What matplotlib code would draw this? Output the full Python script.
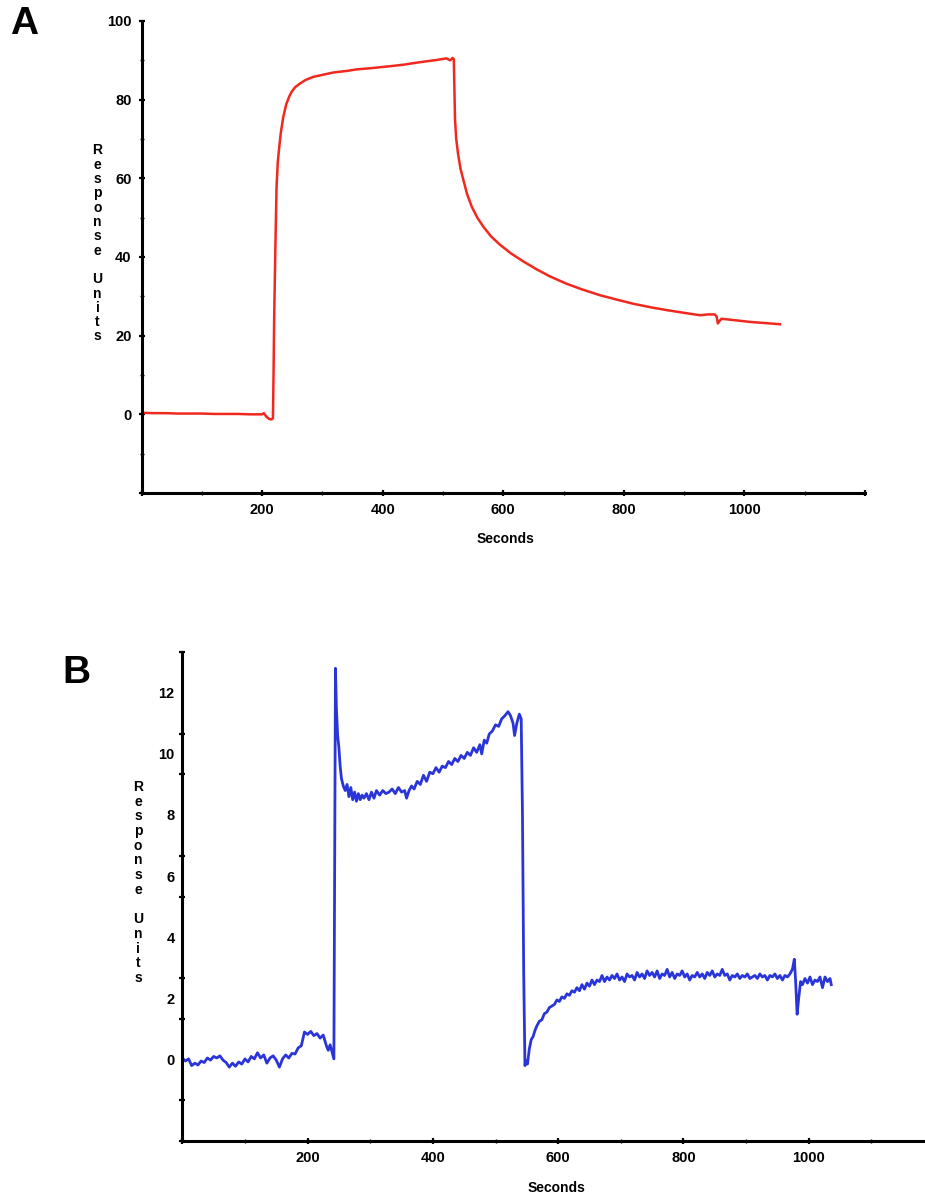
import numpy as np
import matplotlib.pyplot as plt
from matplotlib.ticker import MultipleLocator, FixedLocator

plt.rcParams['font.family'] = ['Liberation Sans', 'DejaVu Sans']
plt.rcParams['font.weight'] = 'bold'

# ---- panel A data ----
a_time = [0, 20, 40, 60, 80, 100, 120, 140, 160, 180, 200, 203, 207, 212, 216, 218,
          219, 220, 222, 224, 226, 228.5, 231, 235, 240, 245, 249, 255, 263, 272, 285,
          300, 318, 340, 357, 380, 412, 435, 456, 475, 490, 506, 512, 516, 518, 520,
          522, 525, 529, 534, 540, 548, 557, 567, 580, 594, 612, 633, 655, 677, 705,
          730, 760, 790, 816, 845, 871, 900, 926, 940, 951, 954, 956, 958, 962, 980,
          1009, 1035, 1059]
a_resp = [0.4, 0.3, 0.3, 0.2, 0.2, 0.2, 0.1, 0.1, 0.1, 0.0, 0.0, 0.3, -0.6, -1.2, -1.3, -1.0,
          10, 24, 42, 57.8, 64, 68, 71.5, 75.5, 78.8, 80.8, 82.0, 83.2, 84.1, 85.0, 85.8,
          86.3, 86.9, 87.3, 87.7, 88.0, 88.5, 88.9, 89.4, 89.8, 90.1, 90.5, 90.0, 90.6, 90.3, 75,
          70, 66.3, 62.5, 59.5, 56, 52.7, 50, 47.7, 45.2, 43.2, 41.0, 38.9, 36.9, 35.1, 33.2,
          31.8, 30.3, 29.1, 28.1, 27.2, 26.5, 25.8, 25.2, 25.4, 25.4, 24.8, 23.1, 23.6, 24.3, 24.0,
          23.5, 23.2, 22.9]

# ---- panel B data ----
b_time_base = [0, 5, 10, 15, 20, 25, 30, 35, 40, 45, 50, 55, 60, 65, 70, 75, 80, 85, 90, 95,
               100, 105, 110, 115, 120, 125, 130, 135, 140, 145, 150, 155, 160, 165, 170, 175,
               180, 185, 190, 195, 200, 205, 210, 215, 220, 225, 230, 233, 236, 239, 242]
b_resp_base = [0.05, -0.05, 0.02, -0.20, -0.12, -0.18, -0.05, -0.10, 0.05, -0.02, 0.10, 0.05,
               0.12, -0.02, -0.10, -0.25, -0.12, -0.22, -0.08, -0.15, 0.02, -0.08, 0.10, 0.02,
               0.22, 0.05, 0.15, -0.12, 0.05, 0.12, -0.02, -0.25, 0.02, 0.15, 0.05, 0.20,
               0.18, 0.38, 0.45, 0.90, 0.82, 0.92, 0.78, 0.85, 0.70, 0.80, 0.45, 0.30, 0.48, 0.25, 0.02]

b_time_assoc = [243.5, 244.5, 246, 248, 250, 252, 254, 257, 260, 263, 266, 269, 272, 275, 278,
                281, 284, 287, 290, 294, 298, 302, 306, 310, 315, 320, 325, 330, 335, 340, 345,
                350, 355, 358, 362, 366, 370, 375, 380, 385, 390, 395, 400, 405, 410, 415, 420,
                425, 430, 435, 440, 445, 450, 455, 460, 465, 470, 475, 478, 482, 486, 490, 495,
                500, 505, 510, 515, 520, 524, 528, 530.5, 534, 538, 541]
b_resp_assoc = [7.4, 12.8, 11.5, 10.6, 10.2, 9.6, 9.2, 8.95, 8.8, 9.0, 8.6, 8.9, 8.5, 8.75, 8.45,
                8.7, 8.5, 8.65, 8.55, 8.7, 8.5, 8.75, 8.55, 8.8, 8.65, 8.8, 8.7, 8.75, 8.85, 8.7, 8.9,
                8.75, 8.8, 8.55, 8.8, 8.95, 8.85, 9.1, 9.0, 9.3, 9.1, 9.4, 9.35, 9.55, 9.4, 9.6, 9.55,
                9.75, 9.65, 9.85, 9.75, 9.95, 9.85, 10.05, 9.95, 10.2, 10.05, 10.3, 10.0, 10.45, 10.35,
                10.65, 10.75, 10.95, 10.9, 11.15, 11.25, 11.38, 11.25, 11.0, 10.6, 11.0, 11.3, 11.15]

b_time_dissoc = [543, 545, 547, 549, 551, 554, 557, 560, 563, 566, 570, 574, 578, 582, 586, 590,
                 594, 598, 602, 606, 610, 614, 618, 622, 626, 630, 634, 638, 642, 646, 650, 654,
                 658, 662, 666, 670, 674, 678, 682, 686, 690, 694, 698, 702, 706, 710, 714, 718,
                 722, 726, 730, 734, 738, 742, 746, 750, 754, 758, 762, 766, 770, 774, 778, 782,
                 786, 790, 794, 798, 802, 806, 810, 814, 818, 822, 826, 830, 834, 838, 842, 846,
                 850, 854, 858, 862, 866, 870, 874, 878, 882, 886, 890, 894, 898, 902, 906, 910,
                 914, 918, 922, 926, 930, 934, 938, 942, 946, 950, 954, 958, 962, 966, 970, 974,
                 977, 979, 981.5, 984, 987, 990, 994, 998, 1002, 1006, 1010, 1014, 1018, 1022,
                 1026, 1030, 1034, 1036]
b_resp_dissoc = [8.1, 2.85, -0.2, -0.05, -0.15, 0.35, 0.65, 0.75, 0.95, 1.1, 1.25, 1.3, 1.5, 1.55,
                 1.7, 1.75, 1.8, 1.95, 1.9, 2.05, 2.0, 2.15, 2.1, 2.25, 2.2, 2.35, 2.25, 2.45, 2.3,
                 2.5, 2.4, 2.6, 2.45, 2.6, 2.55, 2.75, 2.55, 2.7, 2.6, 2.75, 2.65, 2.8, 2.6, 2.7,
                 2.55, 2.8, 2.7, 2.75, 2.6, 2.85, 2.7, 2.8, 2.65, 2.9, 2.75, 2.85, 2.7, 2.9, 2.65,
                 2.8, 2.75, 2.95, 2.7, 2.85, 2.65, 2.8, 2.75, 2.9, 2.7, 2.8, 2.6, 2.75, 2.7, 2.85,
                 2.7, 2.8, 2.65, 2.85, 2.75, 2.9, 2.7, 2.8, 2.75, 2.95, 2.75, 2.8, 2.6, 2.75, 2.7,
                 2.8, 2.65, 2.75, 2.7, 2.8, 2.65, 2.7, 2.75, 2.65, 2.8, 2.7, 2.75, 2.6, 2.75, 2.7,
                 2.8, 2.65, 2.75, 2.6, 2.75, 2.7, 2.8, 2.95, 3.28, 2.6, 1.48, 2.0, 2.55, 2.45, 2.65,
                 2.5, 2.7, 2.45, 2.6, 2.55, 2.7, 2.35, 2.7, 2.55, 2.65, 2.45]

b_time = b_time_base + b_time_assoc + b_time_dissoc
b_resp = b_resp_base + b_resp_assoc + b_resp_dissoc

W, H = 925, 1198
fig = plt.figure(figsize=(W / 100, H / 100), dpi=100)

axA = fig.add_axes([141.5 / W, 1 - 493 / H, 723.5 / W, 472 / H])
axB = fig.add_axes([182.3 / W, 1 - 1141 / H, (934 - 182.3) / W, 489 / H])

for ax in (axA, axB):
    for s in ('top', 'right'):
        ax.spines[s].set_visible(False)
    for s in ('left', 'bottom'):
        ax.spines[s].set_linewidth(2.2)
    ax.tick_params(which='major', direction='inout', length=4.5, width=1.6,
                   labelsize=10.5, pad=5.0)
    ax.tick_params(which='minor', direction='inout', length=3.5, width=1.0)

# panel A
axA.plot(a_time, a_resp, color='#f0281e', lw=1.8)
axA.set_xlim(0, 1200)
axA.set_ylim(-20, 100)
axA.set_xticks(range(0, 1201, 200))
axA.set_xticklabels(['', '200', '400', '600', '800', '1000', ''])
axA.xaxis.set_minor_locator(MultipleLocator(100))
axA.set_yticks(range(-20, 101, 20))
axA.set_yticklabels(['', '0', '20', '40', '60', '80', '100'])
axA.yaxis.set_minor_locator(MultipleLocator(10))

# panel B
axB.plot(b_time, b_resp, color='#2a35d8', lw=2.0)
axB.set_xlim(0, 1200)
axB.set_ylim(-8 / 3, 40 / 3)
axB.set_xticks(range(0, 1201, 200))
axB.set_xticklabels(['', '200', '400', '600', '800', '1000', ''])
axB.xaxis.set_minor_locator(MultipleLocator(100))
axB.set_yticks(range(0, 13, 2))
axB.tick_params(axis='y', which='major', length=0, pad=5.6)
axB.yaxis.set_minor_locator(FixedLocator([k * 4 / 3 for k in range(-2, 11)]))
axB.tick_params(axis='y', which='minor', length=4.5, width=1.6)

# panel letters
fig.text(10 / W, 1 - 24 / H, 'A', fontsize=28, fontweight='bold', va='center', ha='left')
fig.text(62 / W, 1 - 673 / H, 'B', fontsize=28, fontweight='bold', va='center', ha='left')

# stacked y labels
label = list('Response') + [''] + list('Units')
for i, ch in enumerate(label):
    fig.text(97.5 / W, 1 - (150.5 + i * 14.3) / H, ch, fontsize=10, ha='center', va='center')
    fig.text(138 / W, 1 - (787 + i * 14.7) / H, ch, fontsize=10, ha='center', va='center')

fig.text(506 / W, 1 - 539 / H, 'Seconds', fontsize=10, ha='center', va='center')
fig.text(557 / W, 1 - 1188 / H, 'Seconds', fontsize=10, ha='center', va='center')

fig.savefig('out.png', dpi=100)
